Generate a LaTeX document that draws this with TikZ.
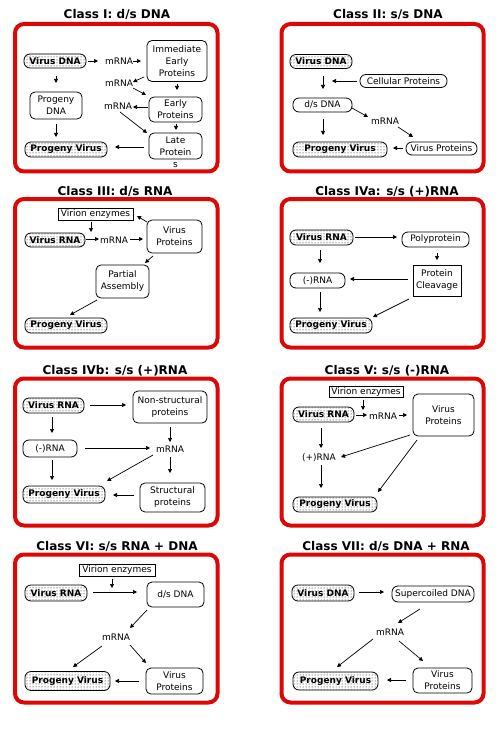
\documentclass[tikz,border=0pt]{standalone}
\usepackage{fontspec}
\setmainfont{DejaVu Sans}
\usetikzlibrary{arrows.meta,patterns}
\definecolor{macred}{RGB}{221,8,6}
\begin{document}
\begin{tikzpicture}[x=1pt,y=-1pt,
  every node/.style={font=\fontsize{9}{12}\selectfont, align=center, inner sep=1pt},
  sz/.style 2 args={minimum width=#1pt, minimum height=#2pt},
  pill/.style={draw, line width=0.8pt, rounded corners=6pt},
  rbox/.style={draw, line width=0.8pt, rounded corners=5pt},
  sbox/.style={draw, line width=0.8pt},
  vir/.style={pill, pattern=dots, font=\fontsize{9}{12}\selectfont\bfseries},
  lbl/.style={inner sep=0pt},
  ttl/.style={anchor=base, font=\fontsize{12}{14}\selectfont\bfseries},
  frame/.style={draw=macred, line width=4pt, rounded corners=9pt},
  arr/.style={line width=0.7pt, -{Triangle[length=4pt,width=4pt]}}
]
\useasboundingbox[fill=white] (0,0) rectangle (502,738);

% frames
\draw[frame] (15,24) rectangle (217.5,171.5);
\draw[frame] (281.5,24) rectangle (483.5,171.5);
\draw[frame] (15,199) rectangle (217.5,347.5);
\draw[frame] (281.5,199) rectangle (483.5,347.5);
\draw[frame] (15,378.5) rectangle (217.5,525.5);
\draw[frame] (281.5,378.5) rectangle (483.5,525.5);
\draw[frame] (15,554.5) rectangle (217.5,702.5);
\draw[frame] (281.5,554.5) rectangle (483.5,702.5);

% titles
\node[ttl] (t1) at (117,18.5) {Class I: d/s DNA};
\node[ttl] (t2) at (388,18.5) {Class II: s/s DNA};
\node[ttl] (t3) at (115,195) {Class III: d/s RNA};
\node[ttl] (t4) at (387,195) {Class IVa: s/s (+)RNA};
\node[ttl] (t5) at (115,374) {Class IVb: s/s (+)RNA};
\node[ttl] (t6) at (387,374) {Class V: s/s (-)RNA};
\node[ttl] (t7) at (117,550) {Class VI: s/s RNA + DNA};
\node[ttl] (t8) at (386,550) {Class VII: d/s DNA + RNA};

% ---------- Panel 1 ----------
\node[vir, sz={62}{14}] (v1) at (55,61) {Virus DNA};
\node[lbl] (m1a) at (119,61) {mRNA};
\node[rbox, sz={60}{41}] (iep) at (177,61) {Immediate\\Early\\Proteins};
\node[lbl] (m1b) at (119,83) {mRNA};
\node[rbox, sz={53}{25}] (ep) at (175.5,109.5) {Early\\Proteins};
\node[lbl] (m1c) at (118,106) {mRNA};
\node[rbox, sz={53}{26}] (lp) at (175.5,146) {Late\\Protein};
\node[lbl] (lps) at (175.5,165) {s};
\node[rbox, sz={52}{27}] (pd) at (56,105.5) {Progeny\\DNA};
\node[vir, sz={82}{15}] (pv1) at (66,149.5) {Progeny Virus};

\draw[arr] ([shift={(33,0)}]v1.center) -- ([shift={(-21,0)}]m1a.center);
\draw[arr] ([shift={(14,0)}]m1a.center) -- ([shift={(-36,0)}]iep.center);
\draw[arr] ([shift={(-33,16)}]iep.center) -- ([shift={(14,-1)}]m1b.center);
\draw[arr] ([shift={(14,5)}]m1b.center) -- ([shift={(-29.5,-14.5)}]ep.center);
\draw[arr] ([shift={(0,23)}]iep.center) -- ([shift={(1.5,-19.5)}]ep.center);
\draw[arr] ([shift={(-27.5,-2.5)}]ep.center) -- ([shift={(15,1)}]m1c.center);
\draw[arr] ([shift={(2,6)}]m1c.center) -- ([shift={(-28.5,-13)}]lp.center);
\draw[arr] ([shift={(0.5,14.5)}]ep.center) -- ([shift={(0.5,-16)}]lp.center);
\draw[arr] ([shift={(-31.5,1)}]lp.center) -- ([shift={(49,-2.5)}]pv1.center);
\draw[arr] ([shift={(1,15)}]v1.center) -- ([shift={(0,-22.5)}]pd.center);
\draw[arr] ([shift={(0,18.5)}]pd.center) -- ([shift={(-10,-12.5)}]pv1.center);

% ---------- Panel 2 ----------
\node[vir, sz={62}{14}] (v2) at (321,61.5) {Virus DNA};
\node[pill, sz={87}{13}] (cp2) at (403.5,81) {Cellular Proteins};
\node[pill, sz={59}{14}] (ds2) at (322.5,105) {d/s DNA};
\node[lbl] (m2) at (385,121) {mRNA};
\node[pill, sz={71}{13}] (vp2) at (441.5,148.5) {Virus Proteins};
\node[vir, sz={94}{15}] (pv2) at (340,149.5) {Progeny Virus};
\coordinate (j2) at (332,81);

\draw[arr] ([shift={(2,14.5)}]v2.center) -- ([shift={(0.5,-16)}]ds2.center);
\draw[arr] ([shift={(-46.5,0)}]cp2.center) -- (j2);
\draw[arr] ([shift={(29.5,3)}]ds2.center) -- ([shift={(-17,-4)}]m2.center);
\draw[arr] ([shift={(13,6)}]m2.center) -- ([shift={(-28.5,-11.5)}]vp2.center);
\draw[arr] ([shift={(-38.5,-0.5)}]vp2.center) -- ([shift={(53,-1.5)}]pv2.center);
\draw[arr] ([shift={(0.5,14)}]ds2.center) -- ([shift={(-17,-14.5)}]pv2.center);

% ---------- Panel 3 ----------
\node[sbox, sz={75}{12}] (ve3) at (95.5,214) {Virion enzymes};
\node[vir, sz={60}{14}] (v3) at (55,240) {Virus RNA};
\node[lbl] (m3) at (114,240) {mRNA};
\node[rbox, sz={55}{33}] (vp3) at (174.5,236.5) {Virus\\Proteins};
\node[rbox, sz={53}{33}] (pa3) at (122.5,281.5) {Partial\\Assembly};
\node[vir, sz={82}{15}] (pv3) at (66,325.5) {Progeny Virus};
\coordinate (j3) at (91,232);

\draw[arr] ([shift={(-4.5,8)}]ve3.center) -- (j3);
\draw[arr] ([shift={(31,-1)}]v3.center) -- ([shift={(-15,-1)}]m3.center);
\draw[arr] ([shift={(16,-1)}]m3.center) -- ([shift={(-31.5,2.5)}]vp3.center);
\draw[arr] ([shift={(-27.5,-14.5)}]vp3.center) -- ([shift={(41.5,2)}]ve3.center);
\draw[arr] ([shift={(-21.5,19.5)}]vp3.center) -- ([shift={(22.5,-18.5)}]pa3.center);
\draw[arr] ([shift={(-25.5,18.5)}]pa3.center) -- ([shift={(4,-10.5)}]pv3.center);

% ---------- Panel 4 ----------
\node[vir, sz={63}{15}] (v4) at (321.5,237.5) {Virus RNA};
\node[pill, sz={67}{15}] (pp4) at (435.5,239.5) {Polyprotein};
\node[sbox, sz={48}{31}] (pc4) at (437,280.5) {Protein\\Cleavage};
\node[pill, sz={55}{15}] (mr4) at (317.5,280.5) {(-)RNA};
\node[vir, sz={82}{15}] (pv4) at (331,325.5) {Progeny Virus};

\draw[arr] ([shift={(33.5,-0.5)}]v4.center) -- ([shift={(-38.5,-2.5)}]pp4.center);
\draw[arr] ([shift={(1.5,13.5)}]pp4.center) -- ([shift={(0,-20.5)}]pc4.center);
\draw[arr] ([shift={(-29,-1.5)}]pc4.center) -- ([shift={(32.5,-1.5)}]mr4.center);
\draw[arr] ([shift={(-1.5,12.5)}]v4.center) -- ([shift={(2.5,-17.5)}]mr4.center);
\draw[arr] ([shift={(2.5,11.5)}]mr4.center) -- ([shift={(-11,-13.5)}]pv4.center);
\draw[arr] ([shift={(-28,18.5)}]pc4.center) -- ([shift={(42,-8.5)}]pv4.center);

% ---------- Panel 5 ----------
\node[vir, sz={61}{15}] (v5) at (53.5,405.5) {Virus RNA};
\node[rbox, sz={74}{32}] (ns5) at (170,407) {Non-structural\\proteins};
\node[lbl] (m5) at (170,449) {mRNA};
\node[pill, sz={54}{17}] (mr5) at (50,448.5) {(-)RNA};
\node[rbox, sz={65}{29}] (sp5) at (172.5,497.5) {Structural\\proteins};
\node[vir, sz={82}{17}] (pv5) at (64,494.5) {Progeny Virus};

\draw[arr] ([shift={(36.5,-0.5)}]v5.center) -- ([shift={(-44,-2)}]ns5.center);
\draw[arr] ([shift={(0,20)}]ns5.center) -- ([shift={(0,-7)}]m5.center);
\draw[arr] ([shift={(-1.5,11.5)}]v5.center) -- ([shift={(2,-15.5)}]mr5.center);
\draw[arr] ([shift={(35,-0.5)}]mr5.center) -- ([shift={(-20,-1)}]m5.center);
\draw[arr] ([shift={(2,11.5)}]mr5.center) -- ([shift={(-12,-14.5)}]pv5.center);
\draw[arr] ([shift={(-17,6)}]m5.center) -- ([shift={(43,-13.5)}]pv5.center);
\draw[arr] ([shift={(0,8)}]m5.center) -- ([shift={(-2.5,-24.5)}]sp5.center);
\draw[arr] ([shift={(-38.5,-2.5)}]sp5.center) -- ([shift={(49,0.5)}]pv5.center);

% ---------- Panel 6 ----------
\node[sbox, sz={74}{11}] (ve6) at (366,392) {Virion enzymes};
\node[vir, sz={61}{15}] (v6) at (323.5,414.5) {Virus RNA};
\node[lbl] (m6) at (383,416) {mRNA};
\node[rbox, sz={61}{42}] (vp6) at (443.5,415) {Virus\\Proteins};
\node[lbl] (pr6) at (319,458) {(+)RNA};
\node[vir, sz={84}{15}] (pv6) at (335,504.5) {Progeny Virus};
\coordinate (j6) at (363,410);

\draw[arr] ([shift={(-3,8)}]ve6.center) -- (j6);
\draw[arr] ([shift={(32.5,0.5)}]v6.center) -- ([shift={(-16,-1)}]m6.center);
\draw[arr] ([shift={(16,-1)}]m6.center) -- ([shift={(-36.5,0)}]vp6.center);
\draw[arr] ([shift={(-33.5,20)}]vp6.center) -- ([shift={(22,-1)}]pr6.center);
\draw[arr] ([shift={(-26.5,25)}]vp6.center) -- ([shift={(43,-12.5)}]pv6.center);
\draw[arr] ([shift={(-2.5,13.5)}]v6.center) -- ([shift={(2,-10)}]pr6.center);
\draw[arr] ([shift={(2,7)}]pr6.center) -- ([shift={(-14,-16.5)}]pv6.center);

% ---------- Panel 7 ----------
\node[sbox, sz={76}{12}] (ve7) at (117,570) {Virion enzymes};
\node[vir, sz={62}{16}] (v7) at (56,593) {Virus RNA};
\node[rbox, sz={57}{25}] (ds7) at (175.5,594.5) {d/s DNA};
\node[lbl] (m7) at (116,637) {mRNA};
\node[rbox, sz={57}{26}] (vp7) at (174.5,681) {Virus\\Proteins};
\node[vir, sz={85}{19}] (pv7) at (67.5,681) {Progeny Virus};
\coordinate (j7) at (112,588);

\draw[arr] ([shift={(-5,9)}]ve7.center) -- (j7);
\draw[arr] ([shift={(37,-1)}]v7.center) -- ([shift={(-38.5,-2.5)}]ds7.center);
\draw[arr] ([shift={(-28.5,15.5)}]ds7.center) -- ([shift={(14,-9)}]m7.center);
\draw[arr] ([shift={(-14,9)}]m7.center) -- ([shift={(5.5,-14)}]pv7.center);
\draw[arr] ([shift={(14,8)}]m7.center) -- ([shift={(-28.5,-18)}]vp7.center);
\draw[arr] ([shift={(-35.5,0)}]vp7.center) -- ([shift={(47.5,0)}]pv7.center);

% ---------- Panel 8 ----------
\node[vir, sz={62}{16}] (v8) at (323,593) {Virus DNA};
\node[pill, sz={82}{16}] (sc8) at (433,594) {Supercoiled DNA};
\node[lbl] (m8) at (390,632) {mRNA};
\node[rbox, sz={59}{25}] (vp8) at (442.5,680.5) {Virus\\Proteins};
\node[vir, sz={85}{18}] (pv8) at (335.5,681) {Progeny Virus};

\draw[arr] ([shift={(36,-1)}]v8.center) -- ([shift={(-49,-2)}]sc8.center);
\draw[arr] ([shift={(-13,15)}]sc8.center) -- ([shift={(8,-9)}]m8.center);
\draw[arr] ([shift={(-17,7)}]m8.center) -- ([shift={(1.5,-14)}]pv8.center);
\draw[arr] ([shift={(9,9)}]m8.center) -- ([shift={(-19.5,-19.5)}]vp8.center);
\draw[arr] ([shift={(-36.5,-0.5)}]vp8.center) -- ([shift={(51.5,-1)}]pv8.center);
\end{tikzpicture}
\end{document}
